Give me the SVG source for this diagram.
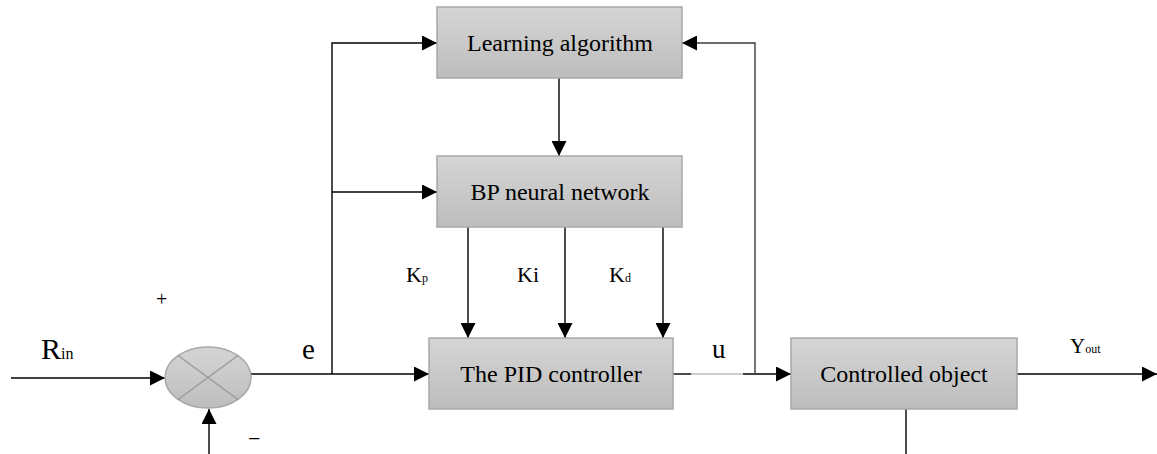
<svg xmlns="http://www.w3.org/2000/svg" width="1157" height="454" viewBox="0 0 1157 454">
<style>
.box{fill:url(#g);stroke:#a8a8a8;stroke-width:1.5}
text{font-family:'Liberation Serif',Tinos,'Times New Roman','DejaVu Serif',serif;fill:#000}
.lbl{font-size:24px;text-anchor:middle}
.w{fill:none;stroke:#000;stroke-width:1.4}
.wg{fill:none;stroke:#3c3c3c;stroke-width:1.4}
</style>
<defs>
<linearGradient id="g" x1="0" y1="0" x2="0" y2="1">
<stop offset="0" stop-color="#d5d5d5"/>
<stop offset="1" stop-color="#bdbdbd"/>
</linearGradient>
<marker id="a" viewBox="0 0 15 15" refX="15" refY="7.5" markerWidth="15" markerHeight="15" markerUnits="userSpaceOnUse" orient="auto">
<path d="M0,0 L15,7.5 L0,15 Z" fill="#000"/>
</marker>
</defs>

<g id="connectors">
<path class="w" d="M11,378 H165" marker-end="url(#a)"/>
<path class="w" d="M209,454 V409" marker-end="url(#a)"/>
<path class="w" d="M251,374 H429" marker-end="url(#a)"/>
<path class="w" d="M332,374 V43 H437" marker-end="url(#a)"/>
<path class="w" d="M332,192 H437" marker-end="url(#a)"/>
<path class="w" d="M559,78 V156" marker-end="url(#a)"/>
<path class="w" d="M468,227 V338" marker-end="url(#a)"/>
<path class="w" d="M565,227 V338" marker-end="url(#a)"/>
<path class="w" d="M663,227 V338" marker-end="url(#a)"/>
<path class="w" d="M673,374 H691"/>
<path d="M691,374 H743" fill="none" stroke="#9a9a9a" stroke-width="1"/>
<path class="w" d="M743,374 H791" marker-end="url(#a)"/>
<path class="wg" d="M755,374 V43 H682" marker-end="url(#a)"/>
<path class="w" d="M1017,374 H1157" marker-end="url(#a)"/>
<path class="w" d="M906,409 V454"/>
</g>

<g id="sum">
<ellipse cx="208" cy="377.5" rx="43" ry="30.5" fill="url(#g)" stroke="#a8a8a8" stroke-width="1.5"/>
<path d="M178,355.5 L238,399.5 M238,355.5 L178,399.5" stroke="#999" stroke-width="1.3" fill="none"/>
</g>

<g id="learning">
<rect class="box" x="437" y="7" width="245" height="71"/>
<text class="lbl" x="560" y="51" font-family="Liberation Serif, serif">Learning algorithm</text>
</g>
<g id="bp">
<rect class="box" x="437" y="156" width="245" height="71"/>
<text class="lbl" x="560" y="200" font-family="Liberation Serif, serif">BP neural network</text>
</g>
<g id="pid">
<rect class="box" x="429" y="338" width="244" height="71"/>
<text class="lbl" x="551" y="382" font-family="Liberation Serif, serif">The PID controller</text>
</g>
<g id="plant">
<rect class="box" x="791" y="338" width="226" height="71"/>
<text class="lbl" x="904" y="382" font-family="Liberation Serif, serif">Controlled object</text>
</g>

<g id="labels" font-family="Liberation Serif, serif">
<text x="41" y="359" font-size="30">R<tspan font-size="16">in</tspan></text>
<text x="156" y="306" font-size="20">+</text>
<text x="248" y="446" font-size="22">−</text>
<text x="302" y="359" font-size="29">e</text>
<text x="406" y="282" font-size="22">K<tspan font-size="12">p</tspan></text>
<text x="517" y="282" font-size="22">Ki</text>
<text x="609" y="282" font-size="22">K<tspan font-size="12">d</tspan></text>
<text x="712" y="358" font-size="27">u</text>
<text x="1070" y="353" font-size="21">Y<tspan font-size="12">out</tspan></text>
</g>
</svg>
